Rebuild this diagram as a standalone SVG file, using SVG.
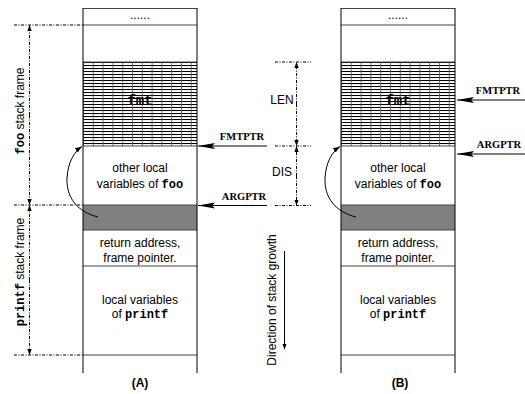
<svg xmlns="http://www.w3.org/2000/svg" width="525" height="394" viewBox="0 0 525 394">
<defs>
<pattern id="hatch" patternUnits="userSpaceOnUse" x="83" y="62" width="9.8" height="3">
<rect width="9.8" height="3" fill="#fff"/>
<line x1="0" y1="0.5" x2="9.8" y2="0.5" stroke="#000" stroke-width="1.1"/>
<line x1="0.5" y1="0" x2="0.5" y2="3" stroke="#555" stroke-width="0.8"/>
</pattern>
<pattern id="hatchB" patternUnits="userSpaceOnUse" x="341" y="62" width="9.8" height="3">
<rect width="9.8" height="3" fill="#fff"/>
<line x1="0" y1="0.5" x2="9.8" y2="0.5" stroke="#000" stroke-width="1.1"/>
<line x1="0.5" y1="0" x2="0.5" y2="3" stroke="#555" stroke-width="0.8"/>
</pattern>
<marker id="big" markerWidth="18" markerHeight="8" refX="17" refY="4" orient="auto" markerUnits="userSpaceOnUse">
<path d="M0,1 L17,4 L0,7 L3,4 Z" fill="#000"/>
</marker>
<marker id="sm" markerWidth="6" markerHeight="6" refX="5.5" refY="3" orient="auto" markerUnits="userSpaceOnUse">
<path d="M0,0.8 L6,3 L0,5.2 Z" fill="#000"/>
</marker>
<marker id="cv" markerWidth="8" markerHeight="6" refX="7" refY="3" orient="auto" markerUnits="userSpaceOnUse">
<path d="M0,0.5 L7,3 L0,5.5 Z" fill="#000"/>
</marker>
</defs>
<style>
.col{fill:none;stroke:#000;stroke-width:1}
.sep{stroke:#444;stroke-width:1}
.t{font-family:"Liberation Sans",Arial,sans-serif;font-size:12px;fill:#000;text-anchor:middle}
.m{font-family:"Liberation Mono","Courier New",monospace;font-weight:bold}
.f{font-size:14px}
.p{font-family:"Liberation Serif","Times New Roman",serif;font-weight:bold;font-size:10.5px;text-anchor:middle}
.dd{stroke:#000;stroke-width:1;stroke-dasharray:3 1.5 1 1.5;fill:none}
.ptr{stroke:#000;stroke-width:1;fill:none;marker-end:url(#big)}
.cur{stroke:#000;stroke-width:1;fill:none;marker-end:url(#cv)}
</style>

<g id="stackA">
<rect x="83" y="62" width="114" height="84" fill="url(#hatch)"/>
<rect x="83" y="205" width="114" height="25" fill="#808080"/>
<line class="sep" x1="83" y1="8.5" x2="197" y2="8.5"/>
<line class="sep" x1="83" y1="25" x2="197" y2="25"/>
<line class="sep" x1="83" y1="62" x2="197" y2="62"/>
<line class="sep" x1="83" y1="146" x2="197" y2="146"/>
<line class="sep" x1="83" y1="205" x2="197" y2="205"/>
<line class="sep" x1="83" y1="230" x2="197" y2="230"/>
<line class="sep" x1="83" y1="266" x2="197" y2="266"/>
<line class="sep" x1="83" y1="355" x2="197" y2="355"/>
<line class="col" x1="83" y1="8" x2="83" y2="373"/>
<line class="col" x1="197" y1="8" x2="197" y2="373"/>
<text class="t" x="140" y="19">......</text>
<text class="t m f" x="140" y="105">fmt</text>
<text class="t" x="140" y="172">other local</text>
<text class="t" x="140" y="188">variables of <tspan class="m">foo</tspan></text>
<text class="t" x="140" y="247">return address,</text>
<text class="t" x="140" y="262">frame pointer.</text>
<text class="t" x="140" y="304">local variables</text>
<text class="t" x="140" y="318">of <tspan class="m">printf</tspan></text>
<text class="t" x="140" y="387" font-weight="bold">(A)</text>
</g>

<g id="stackB">
<rect x="341" y="62" width="114" height="84" fill="url(#hatchB)"/>
<rect x="341" y="205" width="114" height="25" fill="#808080"/>
<line class="sep" x1="341" y1="8.5" x2="455" y2="8.5"/>
<line class="sep" x1="341" y1="25" x2="455" y2="25"/>
<line class="sep" x1="341" y1="62" x2="455" y2="62"/>
<line class="sep" x1="341" y1="146" x2="455" y2="146"/>
<line class="sep" x1="341" y1="205" x2="455" y2="205"/>
<line class="sep" x1="341" y1="230" x2="455" y2="230"/>
<line class="sep" x1="341" y1="266" x2="455" y2="266"/>
<line class="sep" x1="341" y1="355" x2="455" y2="355"/>
<line class="col" x1="341" y1="8" x2="341" y2="373"/>
<line class="col" x1="455" y1="8" x2="455" y2="373"/>
<text class="t" x="398" y="19">......</text>
<text class="t m f" x="398" y="105">fmt</text>
<text class="t" x="398" y="172">other local</text>
<text class="t" x="398" y="188">variables of <tspan class="m">foo</tspan></text>
<text class="t" x="398" y="247">return address,</text>
<text class="t" x="398" y="262">frame pointer.</text>
<text class="t" x="398" y="304">local variables</text>
<text class="t" x="398" y="318">of <tspan class="m">printf</tspan></text>
<text class="t" x="400" y="387" font-weight="bold">(B)</text>
</g>

<g id="labels">
<text class="t" transform="translate(24,111) rotate(-90)"><tspan class="m">foo</tspan>  stack frame</text>
<text class="t" transform="translate(24,272) rotate(-90)"><tspan class="m">printf</tspan> stack frame</text>
<text class="t" x="282" y="104">LEN</text>
<text class="t" x="282" y="176">DIS</text>
<text class="t" font-size="11" transform="translate(276,300) rotate(-90)">Direction of stack growth</text>
<text class="p" x="242" y="140">FMTPTR</text>
<text class="p" x="244" y="200">ARGPTR</text>
<text class="p" x="498" y="94">FMTPTR</text>
<text class="p" x="499" y="148">ARGPTR</text>
</g>

<g id="connectors">
<line class="dd" x1="14" y1="25" x2="83" y2="25"/>
<line class="dd" x1="14" y1="205" x2="83" y2="205"/>
<line class="dd" x1="14" y1="355" x2="83" y2="355"/>
<line class="dd" x1="29.5" y1="115" x2="29.5" y2="25.5" marker-end="url(#sm)"/>
<line class="dd" x1="29.5" y1="115" x2="29.5" y2="204.5" marker-end="url(#sm)"/>
<line class="dd" x1="29.5" y1="280" x2="29.5" y2="205.5" marker-end="url(#sm)"/>
<line class="dd" x1="29.5" y1="280" x2="29.5" y2="354.5" marker-end="url(#sm)"/>
<line class="dd" x1="275" y1="62" x2="311" y2="62"/>
<line class="dd" x1="275" y1="146" x2="311" y2="146"/>
<line class="dd" x1="275" y1="205.5" x2="311" y2="205.5"/>
<line class="dd" x1="296.5" y1="104" x2="296.5" y2="62.5" marker-end="url(#sm)"/>
<line class="dd" x1="296.5" y1="104" x2="296.5" y2="145.5" marker-end="url(#sm)"/>
<line class="dd" x1="296.5" y1="176" x2="296.5" y2="146.5" marker-end="url(#sm)"/>
<line class="dd" x1="296.5" y1="176" x2="296.5" y2="205" marker-end="url(#sm)"/>
<line class="ptr" x1="267" y1="146" x2="198" y2="146"/>
<line class="ptr" x1="267" y1="205.5" x2="198" y2="205.5"/>
<line class="ptr" x1="525" y1="100" x2="457" y2="100"/>
<line class="ptr" x1="525" y1="154" x2="457" y2="154"/>
<line x1="284.5" y1="251" x2="284.5" y2="349" stroke="#000" stroke-width="1" marker-end="url(#sm)"/>
<path class="cur" d="M98,217 C78,212 66,198 67,178 C68,162 74,152 82,146.5"/>
<path class="cur" d="M356,217 C336,212 324,198 325,178 C326,162 332,152 340,146.5"/>
</g>
</svg>
